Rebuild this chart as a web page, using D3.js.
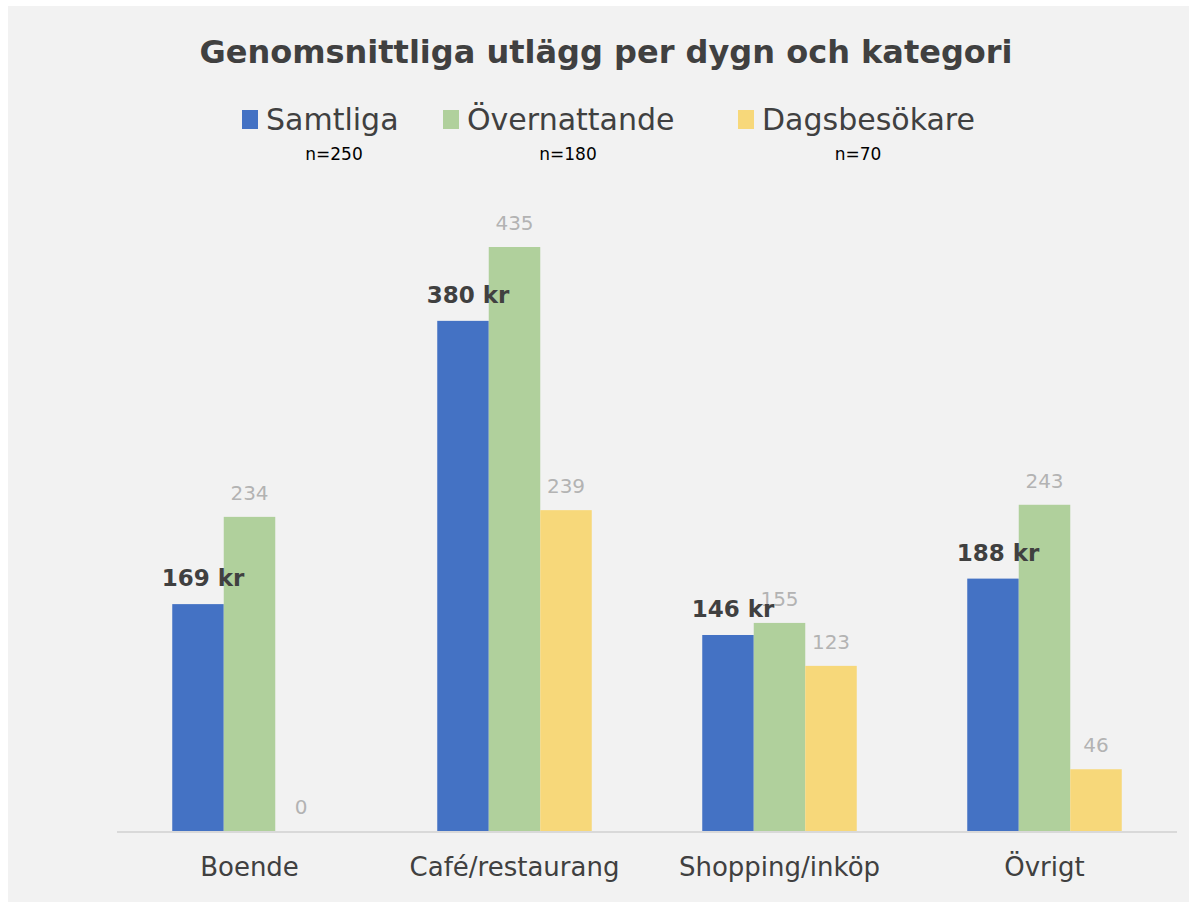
<!DOCTYPE html>
<html>
<head>
<meta charset="utf-8">
<script src="https://cdn.jsdelivr.net/npm/d3@7/dist/d3.min.js"></script>
<style>
  html, body { margin: 0; padding: 0; background: #ffffff; }
  svg { display: block; }
</style>
</head>
<body>
<div id="chart"></div>
<script>
// ── data ─────────────────────────────────────────────────────────────────
var categories   = ['Boende', 'Café/restaurang', 'Shopping/inköp', 'Övrigt'];
var seriesNames  = ['Samtliga', 'Övernattande', 'Dagsbesökare'];
var seriesN      = ['n=250', 'n=180', 'n=70'];
var samtliga     = [169, 380, 146, 188];
var overnattande = [234, 435, 155, 243];
var dagsbesokare = [0, 239, 123, 46];

var seriesValues = [samtliga, overnattande, dagsbesokare];
var colors = ['#4472c4', '#b0d09c', '#f7d87a'];

// ── geometry ─────────────────────────────────────────────────────────────
var W = 1189, H = 902;
var font = "'DejaVu Sans', 'Open Sans', sans-serif";

var svg = d3.select('#chart').append('svg')
    .attr('width', W).attr('height', H);

// panel
svg.append('rect')
    .attr('x', 8).attr('y', 6)
    .attr('width', W - 8).attr('height', H - 6)
    .attr('fill', '#f2f2f2');

var x0 = d3.scaleBand().domain(categories).range([117, 1177]).paddingInner(0).paddingOuter(0);
var x1 = d3.scaleBand().domain(seriesNames).range([0, 154.5]);
var groupOff = (x0.bandwidth() - 154.5) / 2;
var y = d3.scaleLinear().domain([0, 450]).range([831, 831 - 450 * 1.3425]);

// title
svg.append('text')
    .attr('x', 606).attr('y', 63)
    .attr('text-anchor', 'middle')
    .attr('font-family', font).attr('font-weight', 'bold')
    .attr('font-size', '32px').attr('fill', '#404040')
    .text('Genomsnittliga utlägg per dygn och kategori');

// legend
var legendX = [242, 443, 738];
var nX = [334, 568, 858];
seriesNames.forEach(function (s, i) {
    svg.append('rect')
        .attr('x', legendX[i]).attr('y', 110)
        .attr('width', 16).attr('height', 19)
        .attr('fill', colors[i]);
    svg.append('text')
        .attr('x', legendX[i] + 24).attr('y', 130)
        .attr('font-family', font).attr('font-size', '30px')
        .attr('fill', '#404040')
        .text(s);
    svg.append('text')
        .attr('x', nX[i]).attr('y', 160)
        .attr('text-anchor', 'middle')
        .attr('font-family', font).attr('font-size', '17px')
        .attr('fill', '#000000')
        .text(seriesN[i]);
});

// bars
var g = svg.append('g');
categories.forEach(function (cat, ci) {
    seriesNames.forEach(function (s, si) {
        var v = seriesValues[si][ci];
        var bx = x0(cat) + groupOff + x1(s);
        g.append('rect')
            .attr('x', bx).attr('y', y(v))
            .attr('width', x1.bandwidth()).attr('height', y(0) - y(v))
            .attr('fill', colors[si]);
    });
});

// axis line
svg.append('line')
    .attr('x1', 117).attr('x2', 1177)
    .attr('y1', 832).attr('y2', 832)
    .attr('stroke', '#d9d9d9').attr('stroke-width', 2);

// category labels
var xAxis = d3.axisBottom(x0).tickSize(0).tickPadding(0);
var ax = svg.append('g').attr('transform', 'translate(0,' + 876 + ')').call(xAxis);
ax.select('.domain').remove();
ax.selectAll('text')
    .attr('font-family', font).attr('font-size', '26px')
    .attr('fill', '#404040').attr('dy', '0');

// value labels (gray series drawn first, bold Samtliga on top)
categories.forEach(function (cat, ci) {
    [1, 2].forEach(function (si) {
        var v = seriesValues[si][ci];
        var cx = x0(cat) + groupOff + x1(seriesNames[si]) + x1.bandwidth() / 2;
        svg.append('text')
            .attr('x', cx).attr('y', y(v) - 17)
            .attr('text-anchor', 'middle')
            .attr('font-family', font).attr('font-size', '20px')
            .attr('fill', '#b3b3b3')
            .text(v);
    });
});
categories.forEach(function (cat, ci) {
    var v = samtliga[ci];
    var cx = x0(cat) + groupOff + x1(seriesNames[0]) + x1.bandwidth() / 2;
    svg.append('text')
        .attr('x', cx + 5).attr('y', y(v) - 18)
        .attr('text-anchor', 'middle')
        .attr('font-family', font).attr('font-weight', 'bold')
        .attr('font-size', '23px').attr('fill', '#404040')
        .text(v + ' kr');
});
</script>
</body>
</html>
